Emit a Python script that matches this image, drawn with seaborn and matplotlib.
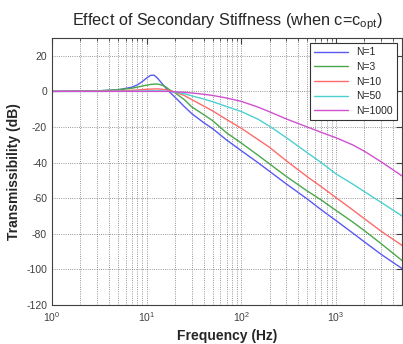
import numpy as np
import pandas as pd
import matplotlib
matplotlib.use("Agg")
import matplotlib.pyplot as plt
import seaborn as sns

# frequency points (Hz)
freq = [1, 3, 5, 7, 8, 9, 10, 11, 12, 13, 14, 15, 16, 17, 18, 20, 25, 30,
        40, 50, 70, 100, 150, 200, 300, 500, 700, 1000, 1500, 2000, 3000, 5000]

# transmissibility (dB) for each secondary stiffness ratio
db_n1 = [0, 0.3, 0.9, 2.4, 3.7, 5.5, 7.5, 9.0, 9.1, 7.5, 5.5, 3.6, 1.8, 0.3, -1.0,
         -3.3, -8.5, -12.5, -17.5, -21, -27.3, -33.3, -40, -45, -52, -60.5, -66.5,
         -72.5, -79.5, -84.5, -91.5, -99.5]
db_n3 = [0, 0.3, 0.9, 1.8, 2.4, 3.0, 3.5, 3.9, 4.1, 4.1, 3.8, 3.2, 2.4, 1.4, 0.5,
         -0.8, -4.6, -8.7, -13, -16.5, -23.3, -29, -35.8, -40.8, -47.8, -56, -61,
         -66.8, -73.3, -78.2, -85.5, -95]
db_n10 = [0, 0.1, 0.3, 0.6, 0.8, 1.0, 1.2, 1.3, 1.4, 1.4, 1.3, 1.1, 0.9, 0.6, 0.3,
          -0.4, -2.3, -4.6, -8.2, -11, -15.8, -20.7, -27, -31.5, -39, -48, -53.5,
          -59.6, -66.5, -71.5, -78.5, -86.5]
db_n50 = [0, 0, 0.1, 0.1, 0.2, 0.2, 0.3, 0.3, 0.3, 0.3, 0.3, 0.2, 0.1, 0, -0.1,
          -0.4, -1.3, -2.5, -4.3, -5.8, -8.5, -11.3, -15.6, -19.6, -26, -34.5,
          -40, -46.3, -52, -56.3, -62.3, -70]
db_n1000 = [0, 0, 0, 0, 0, 0, 0, 0, 0, 0, 0, 0, 0, 0, -0.1, -0.2, -0.5, -0.9,
            -1.6, -2.3, -3.7, -5.6, -8.8, -11.5, -15.5, -20, -23, -26, -30,
            -33.6, -39.5, -47.5]

labels = ["N=1", "N=3", "N=10", "N=50", "N=1000"]
colors = ["#5a5af0", "#4aa84a", "#ff6a6a", "#4cd0d0", "#d050d0"]

frames = []
for lab, vals in zip(labels, [db_n1, db_n3, db_n10, db_n50, db_n1000]):
    frames.append(pd.DataFrame({"freq": freq, "db": vals, "N": lab}))
df = pd.concat(frames, ignore_index=True)

sns.set_style("white")
plt.rcParams["font.family"] = ["Liberation Sans", "DejaVu Sans"]
plt.rcParams["mathtext.fontset"] = "custom"
plt.rcParams["mathtext.rm"] = "Liberation Sans"
plt.rcParams["mathtext.it"] = "Liberation Sans:italic"
plt.rcParams["axes.unicode_minus"] = False

fig = plt.figure(figsize=(4.03, 3.44), dpi=100)
ax = fig.add_axes([52 / 403, 1 - 305 / 344, 350 / 403, (305 - 38) / 344])

sns.lineplot(data=df, x="freq", y="db", hue="N", palette=colors,
             hue_order=labels, linewidth=1.0, ax=ax, sort=True)

ax.set_xscale("log")
ax.set_xlim(1, 5000)
ax.set_ylim(-120, 30)
ax.set_yticks(np.arange(-120, 21, 20))

ax.grid(True, which="major", linestyle=":", color="0.45", linewidth=0.6)
ax.grid(True, which="minor", axis="x", linestyle=":", color="0.45", linewidth=0.6)
ax.tick_params(which="both", direction="in", top=True, right=True, labelsize=7.5,
               colors="0.25")
ax.tick_params(which="major", length=4)
ax.tick_params(which="minor", length=2)
for s in ax.spines.values():
    s.set_color("0.25")
    s.set_linewidth(0.8)

ax.set_title(r"Effect of Secondary Stiffness (when c=c$_{\mathrm{opt}}$)",
             fontsize=11.7, pad=9)
ax.set_xlabel("Frequency (Hz)", fontsize=10, fontweight="bold", labelpad=4)
ax.set_ylabel("Transmissibility (dB)", fontsize=10, fontweight="bold", labelpad=4)

leg = ax.legend(loc="upper right", fontsize=7.5, frameon=True, fancybox=False,
                edgecolor="0.2", framealpha=1, handlelength=3.2,
                labelspacing=0.45, borderaxespad=0.5, title=None)
leg.get_frame().set_linewidth(0.8)

fig.savefig("out.png", dpi=100)
